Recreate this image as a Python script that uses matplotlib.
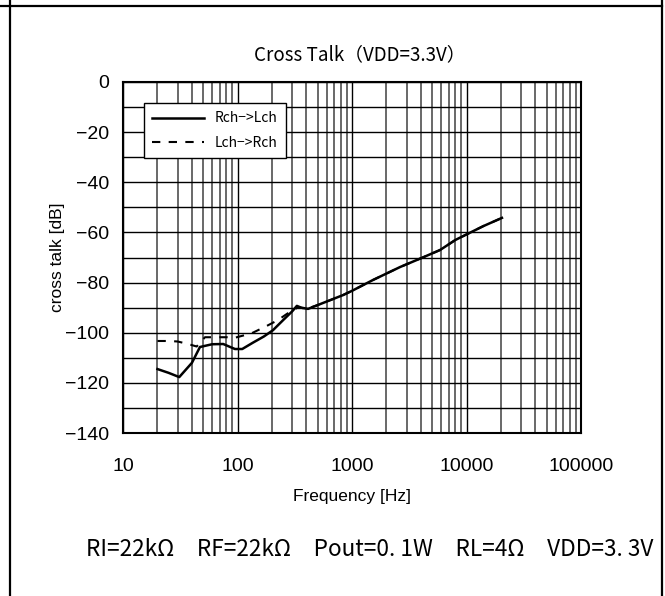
import matplotlib
matplotlib.use("Agg")
import matplotlib.pyplot as plt
from matplotlib.lines import Line2D
from matplotlib.ticker import FixedLocator, NullFormatter

# data
freq_r = [20, 25, 31, 40, 47, 60, 75, 95, 110, 136, 170, 204, 250, 300, 330,
          360, 413, 500, 834, 1000, 1520, 2000, 2630, 4000, 5880, 8000, 10000,
          14000, 20400]
xt_r = [-114.5, -116, -117.7, -112, -105.7, -104.6, -104.5, -106.5, -106.5,
        -104, -101.5, -99, -95, -91.5, -89.3, -90, -90.5, -89, -85, -83.3,
        -79, -76.4, -73.8, -70.3, -67, -63, -60.8, -57.5, -54.2]
freq_l = [20, 25, 30, 37, 44, 52, 60, 70, 81, 95, 115, 136, 180, 225, 270,
          300, 340, 400, 500, 834, 1000, 1520, 2000, 2630, 4000, 5880, 8000,
          10000, 14000, 20400]
xt_l = [-103.3, -103.3, -103.5, -104.5, -105.5, -101.8, -101.8, -101.8,
        -101.8, -102, -101, -100, -97.3, -95, -92.5, -91.2, -89.8, -90.5, -89,
        -85, -83.3, -79, -76.4, -73.8, -70.3, -67, -63, -60.8, -57.5, -54.2]

x_ticks = [10, 100, 1000, 10000, 100000]
x_ticklabels = ["10", "100", "1000", "10000", "100000"]
y_ticks = [0, -20, -40, -60, -80, -100, -120, -140]

fig = plt.figure(figsize=(6.65, 5.96), dpi=100)
W, H = 665, 596
ax = fig.add_axes([123 / W, 1 - 433 / H, 458 / W, 351 / H])

ax.plot(freq_r, xt_r, color="black", lw=1.8, label="Rch\u2212>Lch")
ax.plot(freq_l, xt_l, color="black", lw=1.5, ls=(0, (4, 4)),
        label="Lch\u2212>Rch")

ax.set_xscale("log")
ax.set_xlim(10, 100000)
ax.set_ylim(-140, 0)
ax.set_xticks(x_ticks)
ax.set_xticklabels(x_ticklabels)
ax.xaxis.set_minor_formatter(NullFormatter())
ax.set_yticks(y_ticks)
ax.yaxis.set_minor_locator(FixedLocator(range(-130, 0, 20)))

ax.grid(which="major", axis="both", color="black", lw=1.0)
ax.grid(which="minor", axis="x", color="0.25", lw=1.1)
ax.grid(which="minor", axis="y", color="black", lw=1.0)
ax.tick_params(which="both", direction="out", length=0, labelsize=14)
ax.tick_params(axis="x", pad=18)
ax.tick_params(axis="y", pad=10)
for s in ax.spines.values():
    s.set_linewidth(1.5)

tick_font = "Liberation Sans"
for lab in ax.get_xticklabels() + ax.get_yticklabels():
    lab.set_family(tick_font)

ax.set_xlabel("Frequency [Hz]", fontsize=12.5, family=tick_font, labelpad=10)
ax.set_ylabel("cross talk [dB]", fontsize=12.5, family=tick_font, labelpad=0)
ax.set_title("Cross Talk\uff08VDD=3.3V\uff09", fontsize=13.5, x=0.517,
             family=["Noto Sans CJK JP", "DejaVu Sans"], pad=16)

leg = ax.legend(loc="upper left", bbox_to_anchor=(0.046, 0.94),
                borderaxespad=0, fancybox=False, edgecolor="black",
                framealpha=1, handlelength=3.7, labelspacing=0.75,
                borderpad=0.6,
                prop={"family": ["Noto Sans CJK JP", "DejaVu Sans"], "size": 10})
leg.get_frame().set_linewidth(1.0)

fig.text(370 / W, 1 - 549 / H,
         "RI=22k\u03a9\u3000RF=22k\u03a9\u3000Pout=0. 1W\u3000RL=4\u03a9\u3000VDD=3. 3V",
         ha="center", va="center", fontsize=16.3,
         family=["Noto Sans CJK JP", "DejaVu Sans"])

# outer table frame
fig.add_artist(Line2D([0, 662 / W], [1 - 6 / H, 1 - 6 / H], color="black",
                      lw=1.6, transform=fig.transFigure))
fig.add_artist(Line2D([10 / W, 10 / W], [0, 1], color="black", lw=1.6,
                      transform=fig.transFigure))
fig.add_artist(Line2D([662 / W, 662 / W], [0, 1], color="black", lw=1.6,
                      transform=fig.transFigure))

fig.savefig("out.png", dpi=100)
